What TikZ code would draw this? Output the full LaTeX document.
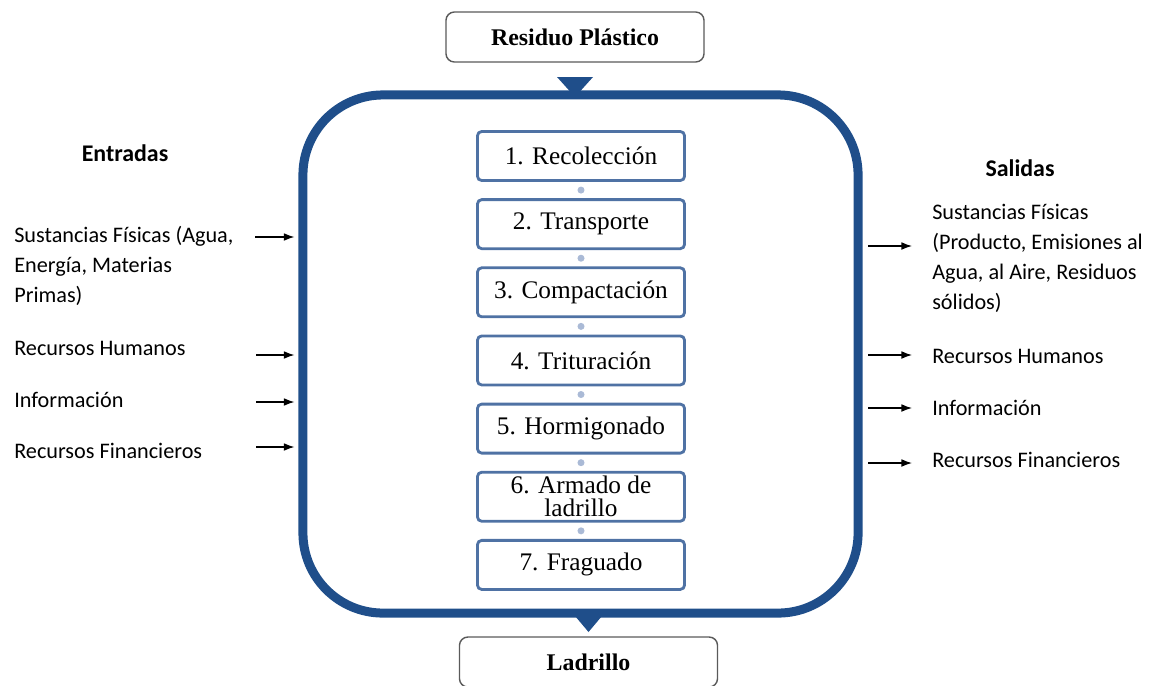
\documentclass[tikz,border=0pt]{standalone}
\usepackage{fontspec}
\setmainfont{Carlito}
\newfontfamily\serifa{Liberation Serif}
\usetikzlibrary{positioning,calc,arrows.meta}

\definecolor{azulmarco}{RGB}{31,78,138}
\definecolor{azulborde}{RGB}{79,114,164}
\definecolor{azulpunto}{RGB}{170,186,214}
\definecolor{grisborde}{RGB}{90,90,90}

\tikzstyle{marco} = [draw=azulmarco, line width=6.4pt, rounded corners=2cm, minimum width=13.875cm, minimum height=12.95cm]
\tikzstyle{paso} = [draw=azulborde, line width=2pt, rounded corners=3pt, fill=white, inner sep=1pt, minimum width=5.175cm, minimum height=1.225cm, text centered, align=center, font=\serifa\fontsize{18}{16.3}\selectfont]
\tikzstyle{caja} = [draw=grisborde, line width=1pt, rounded corners=6pt, fill=white, minimum width=6.45cm, minimum height=1.25cm, font=\serifa\bfseries\fontsize{17}{20}\selectfont]
\tikzstyle{texto} = [draw=none, fill=none, anchor=west, inner sep=0pt, align=left, font=\fontsize{15.8}{21.3}\selectfont]
\tikzstyle{titulo} = [draw=none, fill=none, text centered, font=\bfseries\fontsize{17}{20}\selectfont]
\tikzstyle{puntito} = [circle, fill=azulpunto, inner sep=0pt, minimum size=5pt]
\tikzstyle{flecha} = [draw, line width=0.85pt, -{Latex[length=7.5pt,width=5.5pt]}]

\begin{document}
\begin{tikzpicture}[x=0.025cm, y=-0.025cm, node distance=0.408cm]
    \clip (0,0) rectangle (1154,685);
    % proceso
    \node[marco] (proc) at (580.5,354) {};
    \fill[azulmarco] (557,77) -- (593,77) -- (575,97) -- cycle;
    \fill[azulmarco] (570,610) -- (607,610) -- (588.5,632) -- cycle;
    \node[caja] (residuo) at (575,37) {Residuo Plástico};
    \node[caja] (ladrillo) at (588.5,662) {Ladrillo};
    \node[paso] (p1) at (581,156) {1. Recolección};
    \node[paso, below=of p1] (p2) {2. Transporte};
    \node[paso, below=of p2] (p3) {3. Compactación};
    \node[paso, below=of p3] (p4) {4. Trituración};
    \node[paso, below=of p4] (p5) {5. Hormigonado};
    \node[paso, below=of p5] (p6) {6. Armado de\\ladrillo};
    \node[paso, below=of p6] (p7) {7. Fraguado};
    \foreach \i/\j in {1/2,2/3,3/4,4/5,5/6,6/7}
        \node[puntito] (d\i) at ($(p\i.south)!.5!(p\j.north)$) {};
    % entradas
    \node[titulo] (entradas) at (125,153) {Entradas};
    \node[texto] (in1) at (14,266) {Sustancias Físicas (Agua,\\Energía, Materias\\Primas)};
    \node[texto] (in2) at (14,348) {Recursos Humanos};
    \node[texto] (in3) at (14,400) {Información};
    \node[texto] (in4) at (14,451) {Recursos Financieros};
    \coordinate (a1) at (255,237);
    \coordinate (a2) at (256,355);
    \coordinate (a3) at (256,402);
    \coordinate (a4) at (256,447);
    \foreach \i in {1,...,4}
        \draw[flecha, shorten >=1mm] (a\i) -- (a\i -| proc.west);
    % salidas
    \node[titulo] (salidas) at (1020,168) {Salidas};
    \node[texto] (out1) at (932,258) {Sustancias Físicas\\(Producto, Emisiones al\\Agua, al Aire, Residuos\\sólidos)};
    \node[texto] (out2) at (932,356) {Recursos Humanos};
    \node[texto] (out3) at (932,408) {Información};
    \node[texto] (out4) at (932,460) {Recursos Financieros};
    \coordinate (b1) at (912,246);
    \coordinate (b2) at (912,355);
    \coordinate (b3) at (912,408);
    \coordinate (b4) at (912,463);
    \foreach \i in {1,...,4}
        \draw[flecha, shorten <=1.4mm] (b\i -| proc.east) -- (b\i);
\end{tikzpicture}
\end{document}
